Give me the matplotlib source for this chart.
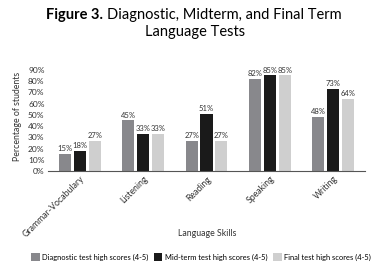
import numpy as np
import matplotlib
matplotlib.use("Agg")
import matplotlib.pyplot as plt

skills = ["Grammar-Vocabulary", "Listening", "Reading", "Speaking", "Writing"]
diagnostic = [15, 45, 27, 82, 48]
midterm = [18, 33, 51, 85, 73]
final = [27, 33, 27, 85, 64]
series_names = ["Diagnostic test high scores (4-5)",
                 "Mid-term test high scores (4-5)",
                 "Final test high scores (4-5)"]
colors = ["#88888c", "#1a1a1a", "#cfcfcf"]

plt.rcParams["font.family"] = ["Lato", "DejaVu Sans"]

fig = plt.figure(figsize=(3.78, 2.71), dpi=100)
ax = fig.add_axes([48 / 378, 1 - 171 / 271, 317 / 378, (171 - 62) / 271])

x = np.arange(len(skills))
w = 0.19
step = 0.235
for i, (vals, name, c) in enumerate(zip([diagnostic, midterm, final], series_names, colors)):
    pos = x + (i - 1) * step
    ax.bar(pos, vals, width=w, color=c, label=name)
    for p, v in zip(pos, vals):
        ax.text(p, v + 1.5, f"{v}%", ha="center", va="bottom", fontsize=5.5, color="#333333")

ax.set_xlim(-0.5, len(skills) - 0.5)
ax.set_ylim(0, 97)
ax.set_yticks(range(0, 100, 10))
ax.set_yticklabels([f"{t}%" for t in range(0, 100, 10)], fontsize=6, color="#333333")
ax.set_xticks(x)
ax.set_xticklabels(skills, rotation=45, ha="right", rotation_mode="anchor", fontsize=6.3, color="#333333")
ax.tick_params(length=0, pad=2.5)
for s in ["top", "right", "left"]:
    ax.spines[s].set_visible(False)
ax.spines["bottom"].set_color("#555555")
ax.spines["bottom"].set_linewidth(0.8)

ax.set_ylabel("Percentage of students", fontsize=6.3, color="#333333", labelpad=4)
fig.text(207 / 378, 1 - 234 / 271, "Language Skills", ha="center", va="center", fontsize=6.3, color="#333333")

leg = ax.legend(loc="center", bbox_transform=fig.transFigure,
                bbox_to_anchor=(201 / 378, 1 - 257 / 271), ncol=3, frameon=False,
                fontsize=5.4, handlelength=1.1, handleheight=1.1, handletextpad=0.3,
                columnspacing=0.8, borderpad=0)

# title with bold prefix
fig.canvas.draw()
r = fig.canvas.get_renderer()
t1 = fig.text(0, 0, "Figure 3. ", fontsize=10.5, fontweight="bold")
t2 = fig.text(0, 0, "Diagnostic, Midterm, and Final Term", fontsize=10.5)
w1 = t1.get_window_extent(r).width
w2 = t2.get_window_extent(r).width
x0 = 194 - (w1 + w2) / 2
y1 = 1 - 15 / 271
t1.set_position((x0 / 378, y1))
t1.set_va("center")
t2.set_position(((x0 + w1) / 378, y1))
t2.set_va("center")
fig.text(195 / 378, 1 - 32 / 271, "Language Tests", fontsize=10.5, ha="center", va="center")

fig.savefig("out.png", dpi=100)
